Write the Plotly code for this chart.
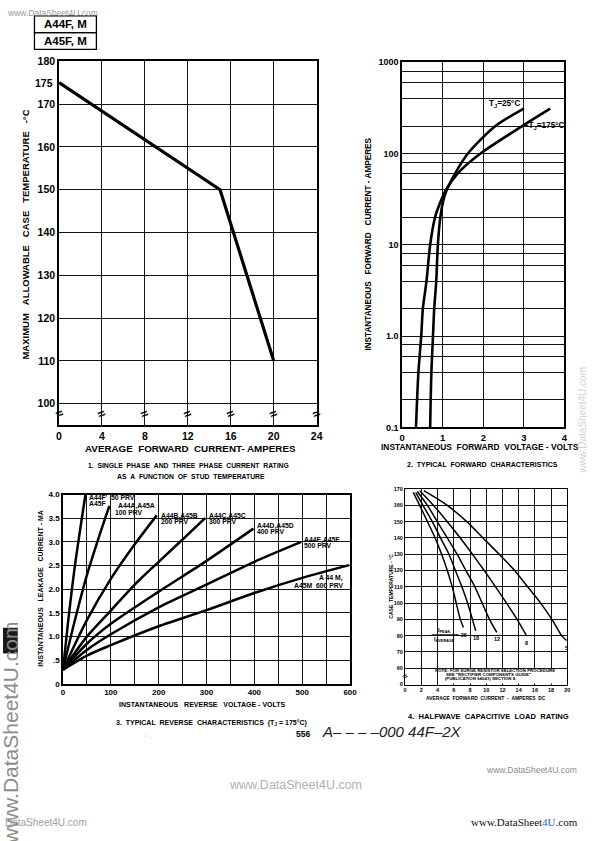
import math
import plotly.graph_objects as go

W, H = 595, 841


def px(x):
    return x / W


def py(y):
    return 1 - y / H


FONT = "Liberation Sans"
NB = "\u00a0"

# ---------------- Chart 1 data ----------------
c1_current = [0, 15, 20]
c1_temp = [175, 150, 110]
c1_xticks = [0, 4, 8, 12, 16, 20, 24]
c1_yticks = [100, 110, 120, 130, 140, 150, 160, 170, 180]

# ---------------- Chart 2 data ----------------
c2_t25_v = [0.69, 0.72, 0.76, 0.79, 0.84, 0.88, 0.94, 1.01, 1.10, 1.30, 1.62, 2.30, 3.00]
c2_t25_i = [0.1, 0.4, 1.0, 2.0, 4.0, 10, 20, 30, 40, 60, 100, 200, 310]
c2_t175_v = [0.34, 0.40, 0.47, 0.51, 0.60, 0.69, 0.81, 0.95, 1.08, 1.36, 1.93, 2.96, 3.65]
c2_t175_i = [0.1, 0.4, 1.0, 2.0, 4.0, 10, 20, 30, 40, 60, 100, 200, 310]
c2_xticks = [0, 1, 2, 3, 4]
c2_yticks = [0.1, 1, 10, 100, 1000]
c2_ytext = ["0.1", "1.0", "10", "100", "1000"]
c2_gridvals = [0.2, 0.4, 0.6, 0.8, 2, 4, 6, 8, 20, 40, 60, 80, 200, 400, 600, 800]

# ---------------- Chart 3 data ----------------
c3_50_v = [0, 10, 25, 47]
c3_50_i = [0.3, 1.25, 2.5, 4.0]
c3_100_v = [0, 25, 50, 75, 97]
c3_100_i = [0.3, 1.35, 2.3, 3.1, 3.76]
c3_200_v = [0, 50, 100, 150, 196]
c3_200_i = [0.3, 1.35, 2.22, 2.95, 3.56]
c3_300_v = [0, 50, 100, 150, 200, 250, 297]
c3_300_i = [0.3, 1.0, 1.55, 2.1, 2.58, 3.05, 3.5]
c3_400_v = [0, 50, 100, 200, 300, 398]
c3_400_i = [0.3, 0.85, 1.27, 1.95, 2.6, 3.28]
c3_500_v = [0, 50, 100, 200, 300, 400, 498]
c3_500_i = [0.3, 0.72, 1.05, 1.62, 2.1, 2.58, 3.0]
c3_600_v = [0, 50, 100, 200, 300, 400, 500, 598]
c3_600_i = [0.3, 0.6, 0.82, 1.22, 1.56, 1.92, 2.24, 2.51]
c3_xticks = [0, 100, 200, 300, 400, 500, 600]
c3_yticks = [0, 0.5, 1.0, 1.5, 2.0, 2.5, 3.0, 3.5, 4.0]
c3_ytext = ["0", ".5", "1.0", "1.5", "2.0", "2.5", "3.0", "3.5", "4.0"]

# ---------------- Chart 4 data ----------------
c4_r25_a = [1.0, 1.8, 2.75, 3.7, 4.5, 5.2, 5.8, 6.3, 6.8, 7.2]
c4_r25_t = [168, 160, 150, 140, 130, 120, 110, 100, 90, 85]
c4_r18_a = [1.3, 2.2, 3.35, 4.36, 5.4, 6.2, 7.0, 7.7, 8.3, 8.7]
c4_r18_t = [168, 160, 150, 140, 130, 120, 110, 100, 90, 83]
c4_r12_a = [1.5, 2.75, 3.96, 5.2, 6.4, 7.5, 8.6, 9.5, 10.4, 11.3]
c4_r12_t = [168.5, 160, 150, 140, 130, 120, 110, 100, 90, 82]
c4_r8_a = [1.8, 3.5, 5.2, 6.8, 8.3, 9.75, 11.15, 12.5, 13.8, 15.0]
c4_r8_t = [169, 160, 150, 140, 130, 120, 110, 100, 90, 79.7]
c4_r5_a = [2.3, 5.2, 7.6, 9.6, 11.6, 13.5, 15.1, 16.7, 18.1, 19.3, 19.9]
c4_r5_t = [169, 160, 150, 140, 130, 120, 110, 100, 90, 80, 77]
c4_xticks = [0, 2, 4, 6, 8, 10, 12, 14, 16, 18, 20]
c4_yticks = [50, 60, 70, 80, 90, 100, 110, 120, 130, 140, 150, 160, 170]
c4_ytext = ["0", "60", "70", "80", "90", "100", "110", "120", "130", "140", "150", "160", "170"]

fig = go.Figure()


def line(x, y, xa, ya, width, shape="linear"):
    fig.add_trace(go.Scatter(x=x, y=y, mode="lines", xaxis=xa, yaxis=ya,
                             line=dict(color="black", width=width, shape=shape, smoothing=0.8),
                             showlegend=False, hoverinfo="skip"))


line(c1_current, c1_temp, "x", "y", 3.2)
line(c2_t25_v, c2_t25_i, "x2", "y2", 2.6, "spline")
line(c2_t175_v, c2_t175_i, "x2", "y2", 2.6, "spline")
for v, i in [(c3_50_v, c3_50_i), (c3_100_v, c3_100_i), (c3_200_v, c3_200_i),
             (c3_300_v, c3_300_i), (c3_400_v, c3_400_i), (c3_500_v, c3_500_i),
             (c3_600_v, c3_600_i)]:
    line(v, i, "x3", "y3", 2.5, "spline")
for a, t in [(c4_r25_a, c4_r25_t), (c4_r18_a, c4_r18_t), (c4_r12_a, c4_r12_t),
             (c4_r8_a, c4_r8_t), (c4_r5_a, c4_r5_t)]:
    line(a, t, "x4", "y4", 1.5, "spline")


def ax(**kw):
    d = dict(showline=True, linecolor="black", mirror=True, ticks="", zeroline=False,
             showgrid=True, gridcolor="#151515", fixedrange=True)
    d.update(kw)
    return d


def tf(size):
    return dict(family=FONT, size=size, color="black", weight="bold")


fig.update_layout(
    width=W, height=H, margin=dict(l=0, r=0, t=0, b=0),
    paper_bgcolor="white", plot_bgcolor="white", showlegend=False,
    xaxis=ax(domain=[px(57), px(319)], range=[0, 24], tickvals=c1_xticks, anchor="y",
             linewidth=1.6, gridwidth=1.3, tickfont=tf(10.5)),
    yaxis=ax(domain=[py(425), py(56)], range=[94.9, 180], tickvals=c1_yticks, anchor="x",
             linewidth=1.6, gridwidth=1.3, tickfont=tf(10.5)),
    xaxis2=ax(domain=[px(406), px(571)], range=[0, 4], tickvals=c2_xticks, anchor="y2",
              linewidth=1.5, gridwidth=1.1, tickfont=tf(9.5)),
    yaxis2=ax(domain=[py(427), py(57)], type="log", range=[-1, 3], tickvals=c2_yticks,
              ticktext=c2_ytext, anchor="x2", linewidth=1.5, gridwidth=1.1, tickfont=tf(9),
              minor=dict(tickmode="array", tickvals=c2_gridvals, showgrid=True,
                         gridcolor="#151515", gridwidth=1.1, ticks="")),
    xaxis3=ax(domain=[px(61), px(353)], range=[0, 600], tickvals=c3_xticks, anchor="y3",
              linewidth=1.5, gridwidth=1.4, tickfont=tf(8),
              minor=dict(tickmode="linear", tick0=0, dtick=50, showgrid=True,
                         gridcolor="#151515", gridwidth=1.4, ticks="")),
    yaxis3=ax(domain=[py(687), py(495)], range=[0, 4], tickvals=c3_yticks, ticktext=c3_ytext,
              anchor="x3", linewidth=1.5, gridwidth=1.4, tickfont=tf(8)),
    xaxis4=ax(domain=[px(409), px(574)], range=[0, 20], tickvals=c4_xticks, anchor="y4",
              linewidth=1.3, gridwidth=1.2, tickfont=tf(5.5)),
    yaxis4=ax(domain=[py(687.5), py(489.5)], range=[50, 170], tickvals=c4_yticks,
              ticktext=c4_ytext, anchor="x4", linewidth=1.3, gridwidth=1.2, tickfont=tf(5.5)),
)

ann = []


def A(text, x, y, size, xref="paper", yref="paper", bold=True, color="black", angle=0,
      xanchor="center", yanchor="middle", family=FONT, italic=False, align="center", **kw):
    f = dict(family=family, size=size, color=color)
    if bold:
        f["weight"] = "bold"
    if italic:
        f["style"] = "italic"
    if xref == "paper":
        x = px(x)
    if yref == "paper":
        y = py(y)
    d = dict(text=text, x=x, y=y, xref=xref, yref=yref, showarrow=False, font=f,
             textangle=angle, xanchor=xanchor, yanchor=yanchor, align=align)
    d.update(kw)
    ann.append(d)


def sp(s, n=3):
    return s.replace("  ", NB * n)


# Header boxes
shapes = [
    dict(type="rect", xref="paper", yref="paper", x0=px(32), x1=px(95), y0=py(27), y1=py(10),
         line=dict(color="black", width=1.3)),
    dict(type="rect", xref="paper", yref="paper", x0=px(32), x1=px(95), y0=py(44), y1=py(27),
         line=dict(color="black", width=1.3)),
]
A("A44F, M", 63.5, 18.5, 11.5)
A("A45F, M", 63.5, 35.5, 11.5)
A("www.DataSheet4U.com", 2, 7, 8.5, bold=False, color="#9a9a9a", xanchor="left")

# Chart 1 texts
A(sp("MAXIMUM  ALLOWABLE  CASE  TEMPERATURE  -°C"), 23, 232, 9.5, angle=-90)
A(sp("AVERAGE  FORWARD  CURRENT- AMPERES", 2), 191, 448, 9.8)
A(sp("1.  SINGLE  PHASE  AND  THREE  PHASE  CURRENT  RATING", 2), 189, 466, 6.8)
A(sp("AS  A  FUNCTION  OF  STUD  TEMPERATURE", 2), 191, 477, 6.8)
A("175", 0, 175, 10.5, xref="x", yref="y", xanchor="right", xshift=-4)
for xv in c1_xticks:
    A("≈", xv, 97.6, 13, xref="x", yref="y", angle=-25)

# Chart 2 texts
A(sp("INSTANTANEOUS  FORWARD  CURRENT - AMPERES"), 372, 241, 8.2, angle=-90)
A(sp("INSTANTANEOUS  FORWARD  VOLTAGE - VOLTS", 2), 485, 447, 8.4)
A(sp("2.  TYPICAL  FORWARD  CHARACTERISTICS", 2), 488, 465, 7)
A("T<sub>J</sub>=25°C", c2_t25_v[-1], math.log10(c2_t25_i[-1]), 8.2, xref="x2", yref="y2",
  xanchor="right", yanchor="bottom", xshift=-2, yshift=-2)
k = c2_t175_i.index(200)
A("–T<sub>J</sub>=175°C", c2_t175_v[k], math.log10(c2_t175_i[k]), 8.2, xref="x2", yref="y2",
  xanchor="left", yanchor="middle", xshift=0)
A("www.DataSheet4U.com", 589, 420, 10, bold=False, color="#d2d2d2", angle=-90)

# Chart 3 texts
A(sp("INSTANTANEOUS  LEAKAGE  CURRENT - MA"), 38, 590, 7, angle=-90)
A(sp("INSTANTANEOUS  REVERSE  VOLTAGE - VOLTS"), 203, 708, 7)
A(sp("3.  TYPICAL  REVERSE  CHARACTERISTICS  (T<sub>J</sub> = 175°C)", 2), 212, 727, 7)
c3_labels = [
    (c3_50_v, c3_50_i, "A44F'" + NB * 2 + "50 PRV", "A45F", 2, -3, 2, -8.5, "left"),
    (c3_100_v, c3_100_i, "A44A,A45A", "100 PRV", 6.5, 0, 3.5, -6.5, "left"),
    (c3_200_v, c3_200_i, "A44B,A45B", "200 PRV", 1.8, -0.6, 1.8, -6, "left"),
    (c3_300_v, c3_300_i, "A44C,A45C", "300 PRV", 2.3, 2, 2.3, -3.4, "left"),
    (c3_400_v, c3_400_i, "A44D,A45D", "400 PRV", 1.8, 2.3, 1.8, -3.3, "left"),
    (c3_500_v, c3_500_i, "A44E,A45E", "500 PRV", 1.2, 1.6, 1.2, -3.4, "left"),
    (c3_600_v, c3_600_i, "A 44 M,", "A45M" + NB * 2 + "600 PRV", -4.4, -13.3, -4.4, -20, "right"),
]
for v, i, t1, t2, dx1, dy1, dx2, dy2, anc in c3_labels:
    A(t1, v[-1], i[-1], 6.8, xref="x3", yref="y3", xanchor=anc, yanchor="middle", xshift=dx1, yshift=dy1)
    A(t2, v[-1], i[-1], 6.8, xref="x3", yref="y3", xanchor=anc, yanchor="middle", xshift=dx2, yshift=dy2)

# Chart 4 texts
A(sp("CASE  TEMPERATURE - °C", 2), 395, 588, 5, angle=-90)
A(sp("AVERAGE  FORWARD  CURRENT  -  AMPERES  DC", 2), 491, 702, 4.9)
A(sp("4.  HALFWAVE  CAPACITIVE  LOAD  RATING", 2), 494, 720, 7.6)
A("I<sub>PEAK</sub>", 449, 633, 5.5)
A("I<sub>AVERAGE</sub>", 449, 641.5, 5.5)
shapes.append(dict(type="line", xref="paper", yref="paper", x0=px(436), x1=px(462),
                   y0=py(637), y1=py(637), line=dict(color="black", width=0.8)))
A("= 25", 466.5, 637, 5.5)
for a, t, lab in [(c4_r18_a, c4_r18_t, "18"), (c4_r12_a, c4_r12_t, "12"),
                  (c4_r8_a, c4_r8_t, "8"), (c4_r5_a, c4_r5_t, "5")]:
    A(lab, a[-1], t[-1], 5.5, xref="x4", yref="y4", xanchor="center", yanchor="top", yshift=-2)
shapes.append(dict(type="rect", xref="x4", yref="y4", x0=4.15, x1=19.85, y0=50.6, y1=59.4,
                   fillcolor="white", line=dict(width=0), layer="above"))
A("NOTE:" + NB + "FOR SURGE RESISTOR SELECTION PROCEDURE", 437, 673, 4.4, xanchor="left")
A(NB * 9 + "SEE \"RECTIFIER COMPONENTS GUIDE\"", 437, 677.3, 4.4, xanchor="left")
A(NB * 8 + "(PUBLICATION 94041) SECTION 8.", 437, 681.6, 4.4, xanchor="left")
A("≈", 0, 55, 8, xref="x4", yref="y4", angle=-30)

# Page footer
A("556", 305, 738, 8.5)
A("A– – – –000 44F–2X", 396, 735, 15, bold=False, italic=True, color="#222")
A(":" + NB * 2 + "ˌ", 148, 739, 6, bold=False, color="#444")
A("www.DataSheet4U.com", 538, 774, 8.5, bold=False, color="#8a8a8a")
A("www.DataSheet4U.com", 298, 789, 12.5, bold=False, color="#b0b0b0")
A("DataSheet4U.com", 0, 827, 10, bold=False, color="#a0a0a0", xanchor="left")
A("www.DataSheet<span style='color:#1f5fd6'>4U</span>.com", 530, 827, 11, bold=False,
  family="Liberation Serif", color="#111")

# left big vertical watermark
shapes.append(dict(type="rect", xref="paper", yref="paper", x0=0, x1=px(15), y0=py(656),
                   y1=py(630), fillcolor="#1a1a1a", line=dict(width=0)))
A("www.DataSheet4U.com", 8, 736, 21, bold=False, color="#8c8c8c", angle=-90)

fig.update_layout(annotations=ann, shapes=shapes)
fig.write_html(
    "out.html",
    config={"displayModeBar": False},
    post_script="document.body.style.margin='0px';document.body.style.padding='0px';"
                "document.body.style.overflow='hidden';",
)
